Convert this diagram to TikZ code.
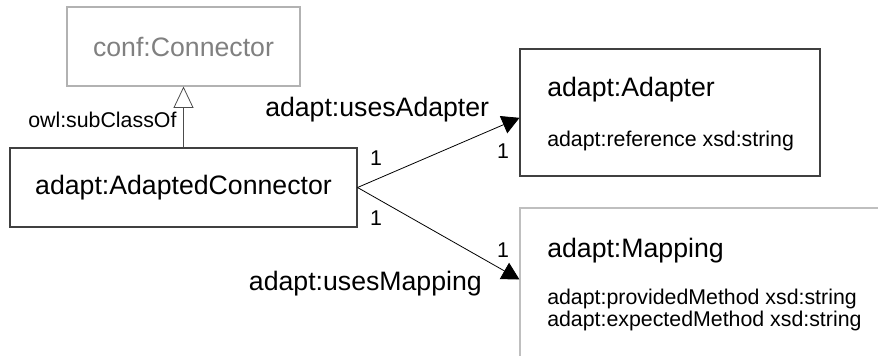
\documentclass[tikz,border=0pt]{standalone}
\usepackage{fontspec}
\setmainfont{Liberation Sans}
\usetikzlibrary{arrows.meta}

\begin{document}
\begin{tikzpicture}[x=0.75pt,y=-0.75pt,
  classbox/.style={draw=black!75,line width=0.8pt,inner sep=0pt},
  big/.style={font=\fontsize{20}{24}\selectfont,inner sep=0pt},
  small/.style={font=\fontsize{16}{19}\selectfont,inner sep=0pt}]
\clip (0,0) rectangle (878,356);
% classes
\node[classbox,draw=black!30,minimum width=174.75pt,minimum height=59.25pt] (conn) at (183.5,46.5) {};
\node[big,text=black!50] (conntxt) at (conn.center) {conf:Connector};
\node[classbox,minimum width=260.25pt,minimum height=59.25pt] (ac) at (183.5,187.5) {};
\node[big] (actxt) at (ac.center) {adapt:AdaptedConnector};
\node[classbox,minimum width=225pt,minimum height=95.25pt] (ad) at (670,112.5) {};
\node[big,anchor=base west] (adtxt) at (547,97) {adapt:Adapter};
\node[small,anchor=base west] (adref) at (547,147) {adapt:reference xsd:string};
\node[classbox,draw=black!25,minimum width=285pt,minimum height=144pt] (mp) at (710,304) {};
\node[big,anchor=base west] (mptxt) at (547,257) {adapt:Mapping};
\node[small,anchor=base west] (mpprov) at (547,304) {adapt:providedMethod xsd:string};
\node[small,anchor=base west] (mpexp) at (547,326) {adapt:expectedMethod xsd:string};
% relations
\draw[line width=0.6pt,draw=black!70,-{Triangle[open,length=16pt,width=15pt,fill=white]}] (ac.north) -- (conn.south);
\draw[line width=0.6pt,-{Triangle[length=13pt,width=14pt]}] (ac.east) -- ([yshift=-4pt]ad.west);
\draw[line width=0.6pt,-{Triangle[length=13pt,width=14pt]}] (ac.east) -- ([yshift=-54pt]mp.north west);
% labels
\node[small,anchor=base west] (subcl) at (28,128) {owl:subClassOf};
\node[big,anchor=base west] (usesad) at (265,117) {adapt:usesAdapter};
\node[big,anchor=base east] (usesmp) at (482,290) {adapt:usesMapping};
\node[small] (m1) at (376,158) {1};
\node[small] (m2) at (503,151) {1};
\node[small] (m3) at (376,218) {1};
\node[small] (m4) at (503,250) {1};
\end{tikzpicture}
\end{document}
